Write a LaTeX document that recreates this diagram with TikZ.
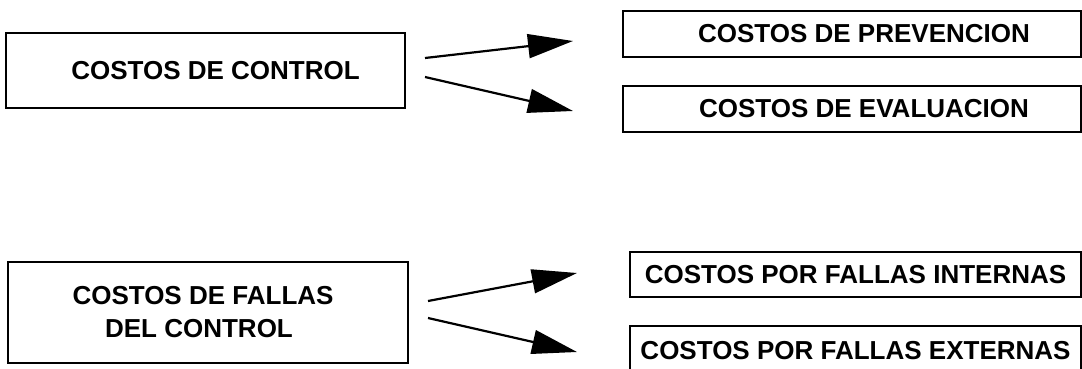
\documentclass[tikz,border=0pt]{standalone}
\usepackage{fontspec}
\setmainfont{Liberation Sans}
\usetikzlibrary{arrows.meta}
\begin{document}
\begin{tikzpicture}[x=1pt,y=-1pt,
  cbox/.style={draw, line width=1.8pt, rectangle, inner sep=0pt,
    font=\fontsize{26}{33}\selectfont\bfseries},
  link/.style={line width=2.2pt, -{Triangle[length=45pt,width=24pt]}}]
\useasboundingbox (0,0) rectangle (1082,368);
\clip (0,0) rectangle (1082,368);
% left boxes
\node[cbox, minimum width=399pt, minimum height=75pt] (ctrl) at (205.5,70.5) {\hspace*{20pt}COSTOS DE CONTROL};
\node[cbox, minimum width=400pt, minimum height=101pt, align=center] (fallas) at (208,312.5)
  {\hspace*{-10pt}COSTOS DE FALLAS\\\hspace*{-18pt}DEL CONTROL};
% right boxes
\node[cbox, minimum width=458pt, minimum height=46pt] (prev) at (852,34) {\hspace*{24pt}COSTOS DE PREVENCION};
\node[cbox, minimum width=458pt, minimum height=46pt] (eval) at (852,109) {\hspace*{24pt}COSTOS DE EVALUACION};
\node[cbox, minimum width=451pt, minimum height=45pt] (int) at (855.5,274.5) {COSTOS POR FALLAS INTERNAS};
\node[cbox, minimum width=451pt, minimum height=60pt, text depth=12pt, text height=19pt] (ext) at (855.5,356) {COSTOS POR FALLAS EXTERNAS};
% arrow end points
\coordinate (c1) at (425,58);
\coordinate (c2) at (425,77);
\coordinate (t1) at (573,41);
\coordinate (t2) at (573,111);
\coordinate (f1) at (428,301);
\coordinate (f2) at (428,318);
\coordinate (u1) at (577,273);
\coordinate (u2) at (577,352);
\draw[link] (c1) -- (t1);
\draw[link] (c2) -- (t2);
\draw[link] (f1) -- (u1);
\draw[link] (f2) -- (u2);
\end{tikzpicture}
\end{document}
